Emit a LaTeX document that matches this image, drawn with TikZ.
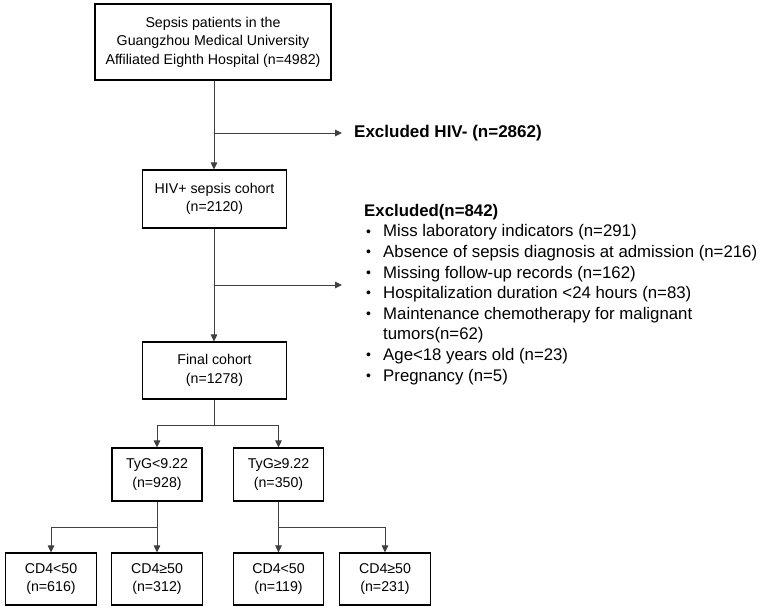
\documentclass[tikz,border=0pt]{standalone}
\usepackage{fontspec}
\setmainfont{Liberation Sans}
\usetikzlibrary{arrows.meta}
\tikzset{
  box/.style={draw=black, line width=1.1pt, fill=white, inner sep=0pt, align=center,
    font=\fontsize{14.2}{18.5}\selectfont},
  conn/.style={draw=black!75, line width=0.9pt},
  arr/.style={conn, -{Triangle[length=7pt,width=6.5pt]}},
  big/.style={inner sep=0pt, align=left, font=\fontsize{16.8}{20.6}\selectfont}
}
\newcommand{\bul}[1]{\hspace*{2pt}\makebox[17pt][l]{\raisebox{0.8pt}{\fontsize{14}{14}\selectfont •}}#1}
\begin{document}
\begin{tikzpicture}[x=1pt,y=-1pt]
\useasboundingbox (0,0) rectangle (767,611);
% boxes
\node[box, minimum width=236pt, minimum height=76pt] (top) at (213,42)
  {Sepsis patients in the\\Guangzhou Medical University\\Affiliated Eighth Hospital (n=4982)};
\node[box, minimum width=144pt, minimum height=58pt] (hiv) at (214.5,199)
  {HIV+ sepsis cohort\\(n=2120)};
\node[box, minimum width=144pt, minimum height=57pt] (final) at (214.5,370.5)
  {Final cohort\\(n=1278)};
\node[box, minimum width=90pt, minimum height=53pt] (tyga) at (157,474.5)
  {TyG<9.22\\(n=928)};
\node[box, minimum width=90pt, minimum height=53pt] (tygb) at (278.5,474.5)
  {TyG≥9.22\\(n=350)};
\node[box, minimum width=91pt, minimum height=52pt] (cda) at (51,579)
  {CD4<50\\(n=616)};
\node[box, minimum width=91pt, minimum height=52pt] (cdb) at (157,579)
  {CD4≥50\\(n=312)};
\node[box, minimum width=90pt, minimum height=52pt] (cdc) at (278.5,579)
  {CD4<50\\(n=119)};
\node[box, minimum width=91pt, minimum height=52pt] (cdd) at (385,579)
  {CD4≥50\\(n=231)};
% exclusion texts
\node[big, anchor=west, font=\fontsize{17}{20.6}\selectfont\bfseries] (exa) at (354,133.5)
  {Excluded HIV- (n=2862)};
\node[big, anchor=north west] (exb) at (364,201.6)
  {\strut\textbf{Excluded(n=842)}\\
   \bul{Miss laboratory indicators (n=291)}\\
   \bul{Absence of sepsis diagnosis at admission (n=216)}\\
   \bul{Missing follow-up records (n=162)}\\
   \bul{Hospitalization duration <24 hours (n=83)}\\
   \bul{Maintenance chemotherapy for malignant}\\
   \hspace*{19pt}tumors(n=62)\\
   \bul{Age<18 years old (n=23)}\\
   \bul{Pregnancy (n=5)}};
% coordinates
\coordinate (ea1) at (214,133);
\coordinate (ea2) at (342,133);
\coordinate (eb1) at (214,285);
\coordinate (eb2) at (342,285);
\coordinate (s1) at (214,425);
\coordinate (s2) at (157,527);
\coordinate (s3) at (278.5,527);
% connectors
\draw[arr] (top.south -| ea1) -- (hiv.north -| ea1);
\draw[arr] (ea1) -- (ea2);
\draw[arr] (hiv.south -| eb1) -- (final.north -| eb1);
\draw[arr] (eb1) -- (eb2);
\draw[conn] (final.south -| s1) -- (s1);
\draw[arr] (s1) -| (tyga.north);
\draw[arr] (s1) -| (tygb.north);
\draw[conn] (tyga.south) -- (s2);
\draw[arr] (s2) -| (cda.north);
\draw[arr] (s2) -- (cdb.north);
\draw[conn] (tygb.south) -- (s3);
\draw[arr] (s3) -- (cdc.north);
\draw[arr] (s3) -| (cdd.north);
\end{tikzpicture}
\end{document}
